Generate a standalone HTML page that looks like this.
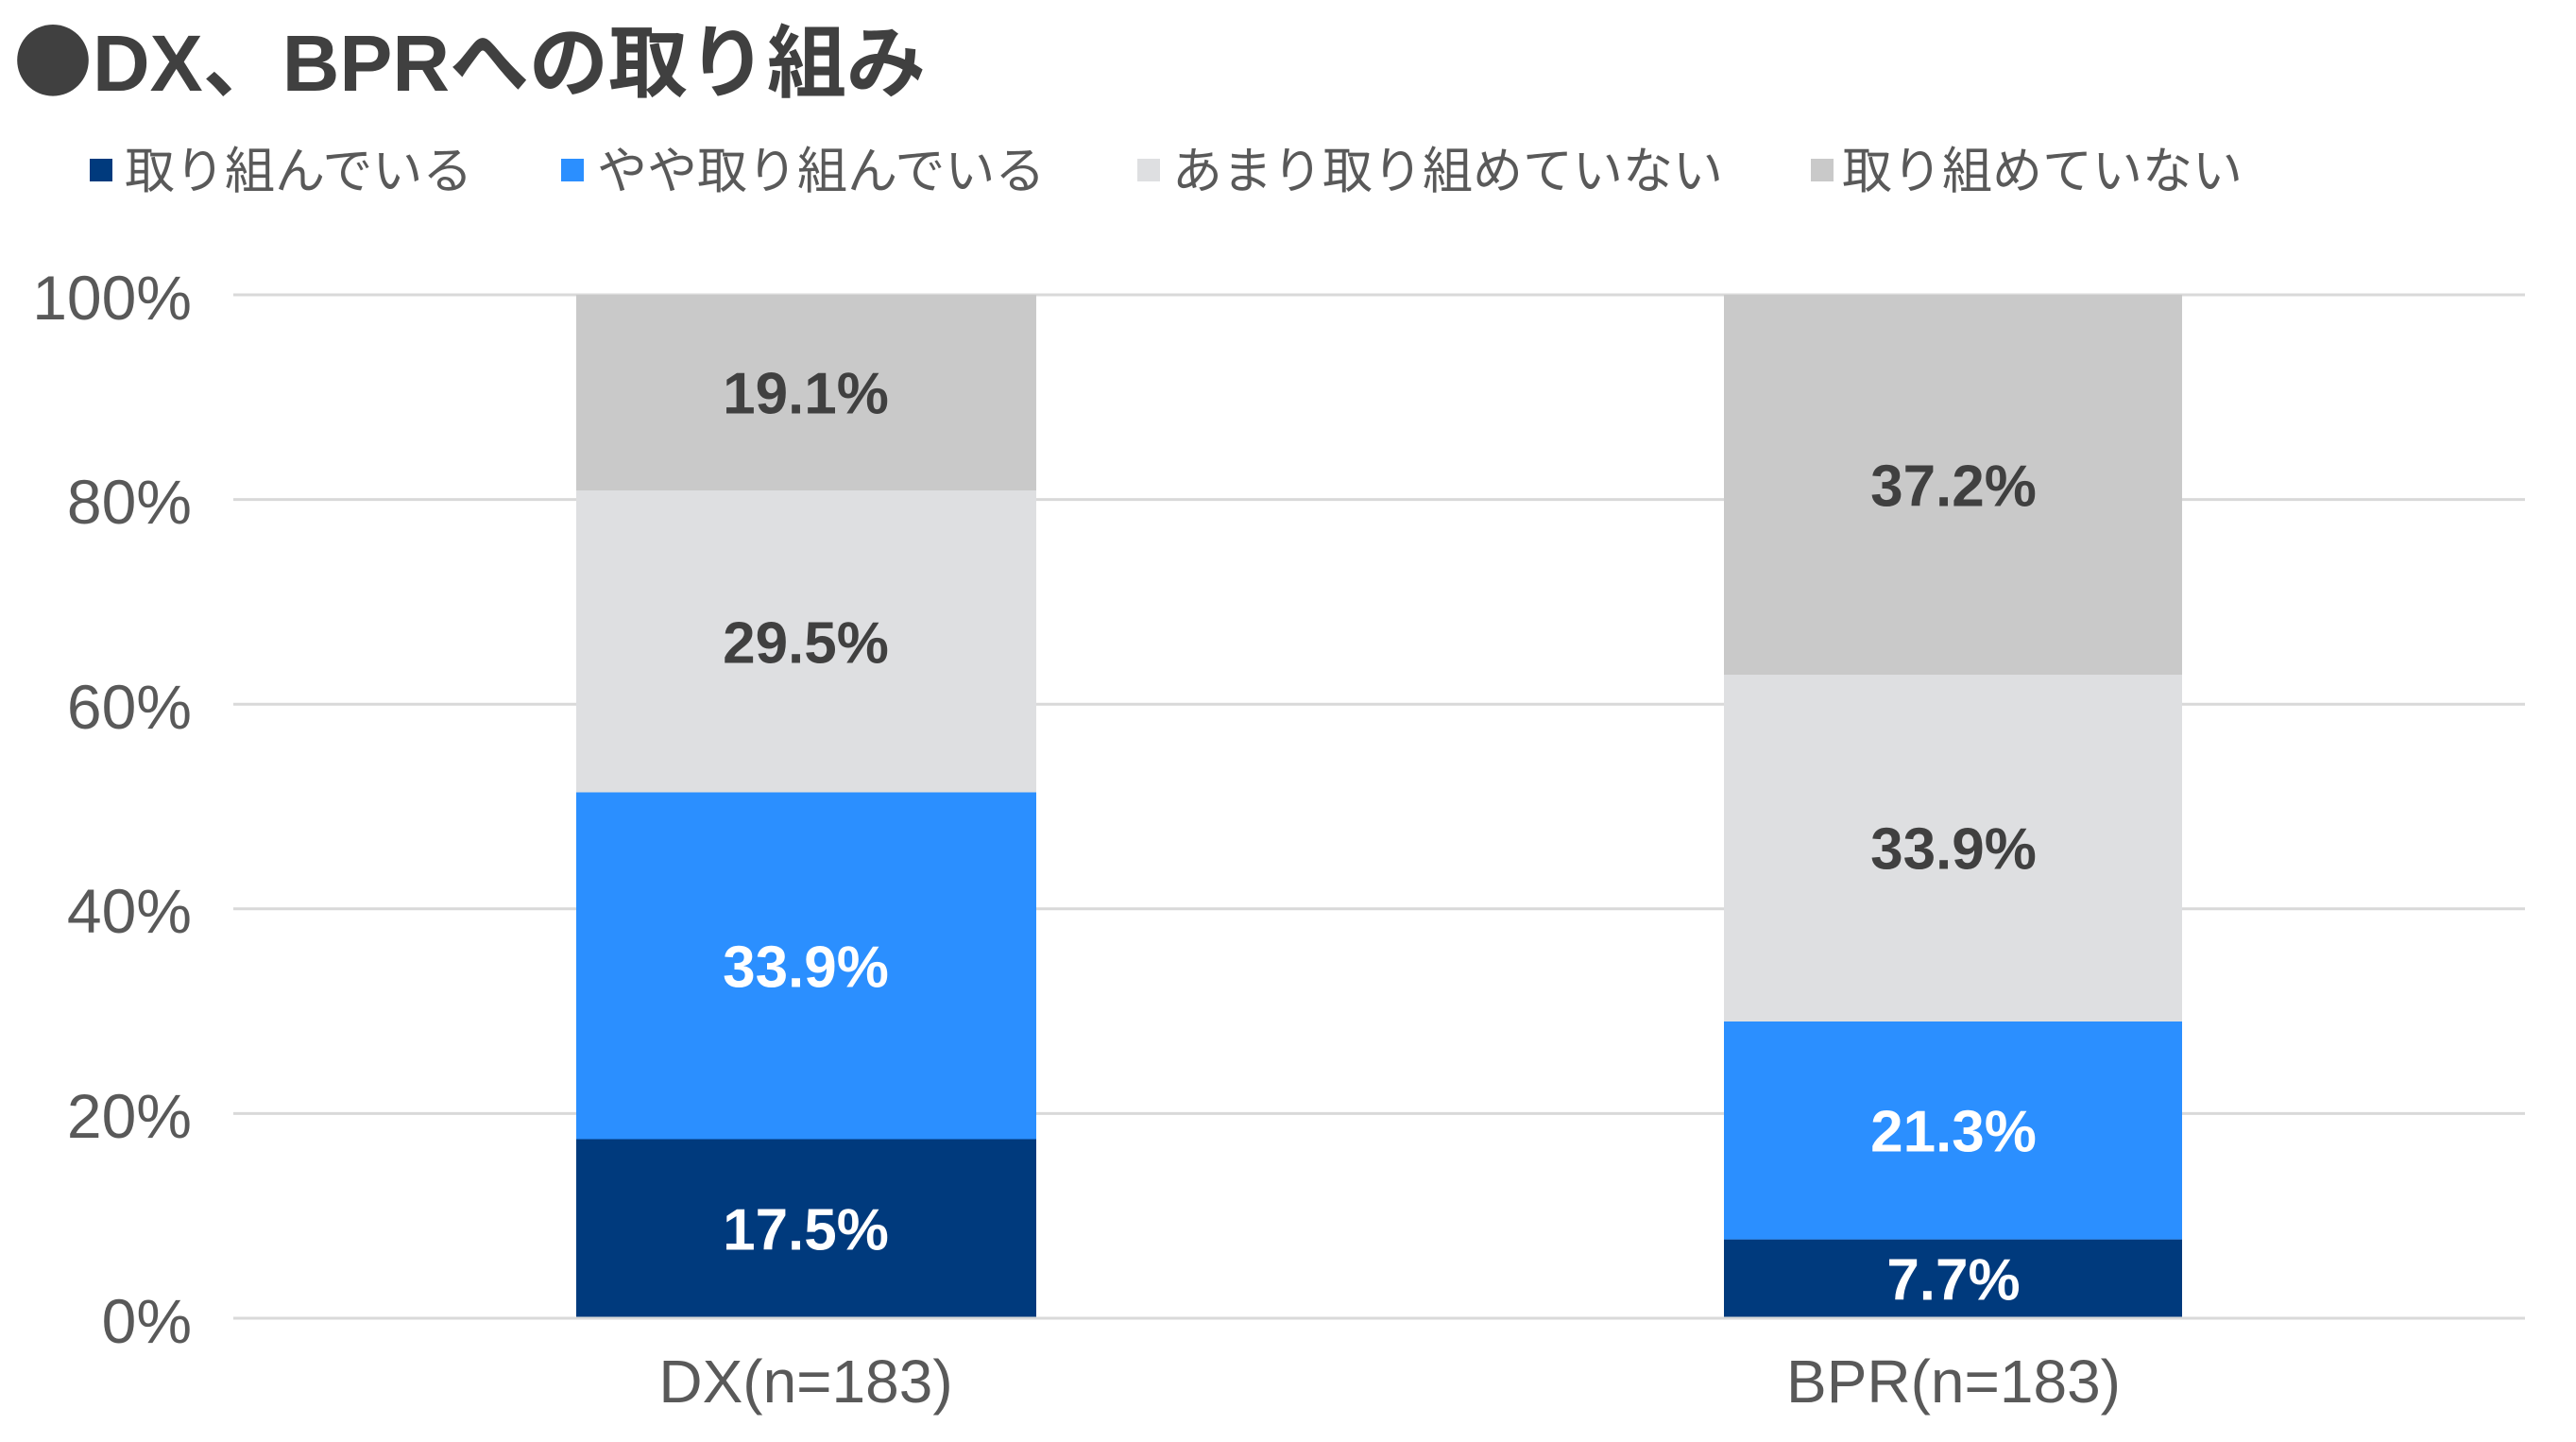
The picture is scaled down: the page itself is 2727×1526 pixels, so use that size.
<!DOCTYPE html>
<html><head><meta charset="utf-8"><style>
html,body{margin:0;padding:0;background:#fff;}
svg{display:block;}
text{font-family:"Liberation Sans","Noto Sans CJK JP",sans-serif;}
</style></head><body>
<svg width="2727" height="1526" viewBox="0 0 2727 1526" xmlns="http://www.w3.org/2000/svg">
<text x="14" y="96" font-size="84" font-weight="bold" fill="#404040"><tspan font-family="Noto Sans CJK JP, sans-serif">●</tspan>DX、BPRへの取り組み</text>
<g font-size="53" fill="#595959">
<rect x="95" y="168" width="24" height="24" fill="#003a7d"/>
<text x="132" y="199">取り組んでいる</text>
<rect x="594" y="168" width="24" height="24" fill="#2b8fff"/>
<text x="632" y="199">やや取り組んでいる</text>
<rect x="1204" y="168" width="24" height="24" fill="#dedfe1"/>
<text x="1241" y="199">あまり取り組めていない</text>
<rect x="1917" y="168" width="24" height="24" fill="#c9c9c9"/>
<text x="1950" y="199">取り組めていない</text>
</g>
<g stroke="#d9d9d9" stroke-width="3">
<line x1="247" x2="2673" y1="312" y2="312"/>
<line x1="247" x2="2673" y1="528.6" y2="528.6"/>
<line x1="247" x2="2673" y1="745.2" y2="745.2"/>
<line x1="247" x2="2673" y1="961.8" y2="961.8"/>
<line x1="247" x2="2673" y1="1178.4" y2="1178.4"/>
</g>
<g font-size="66" fill="#595959" text-anchor="end" dominant-baseline="central">
<text x="203" y="315">100%</text>
<text x="203" y="531">80%</text>
<text x="203" y="748">60%</text>
<text x="203" y="964">40%</text>
<text x="203" y="1181">20%</text>
<text x="203" y="1398">0%</text>
</g>
<rect x="610" y="1205.5" width="487" height="189.5" fill="#003a7d"/>
<rect x="610" y="838.5" width="487" height="367" fill="#2b8fff"/>
<rect x="610" y="519" width="487" height="319.5" fill="#dedfe1"/>
<rect x="610" y="312" width="487" height="207" fill="#c9c9c9"/>
<rect x="1825" y="1311.6" width="485" height="83.4" fill="#003a7d"/>
<rect x="1825" y="1081" width="485" height="230.6" fill="#2b8fff"/>
<rect x="1825" y="714" width="485" height="367" fill="#dedfe1"/>
<rect x="1825" y="312" width="485" height="402" fill="#c9c9c9"/>
<line x1="247" x2="2673" y1="1395" y2="1395" stroke="#d9d9d9" stroke-width="3"/>
<g font-size="62" font-weight="bold" text-anchor="middle" dominant-baseline="central">
<text x="853" y="1302" fill="#fff">17.5%</text>
<text x="853" y="1024" fill="#fff">33.9%</text>
<text x="853" y="681" fill="#404040">29.5%</text>
<text x="853" y="417" fill="#404040">19.1%</text>
<text x="2068" y="1355" fill="#fff">7.7%</text>
<text x="2068" y="1198" fill="#fff">21.3%</text>
<text x="2068" y="899" fill="#404040">33.9%</text>
<text x="2068" y="515" fill="#404040">37.2%</text>
</g>
<g font-size="64" fill="#595959" text-anchor="middle" dominant-baseline="central">
<text x="853" y="1462">DX(n=183)</text>
<text x="2068" y="1462">BPR(n=183)</text>
</g>
</svg>
</body></html>
